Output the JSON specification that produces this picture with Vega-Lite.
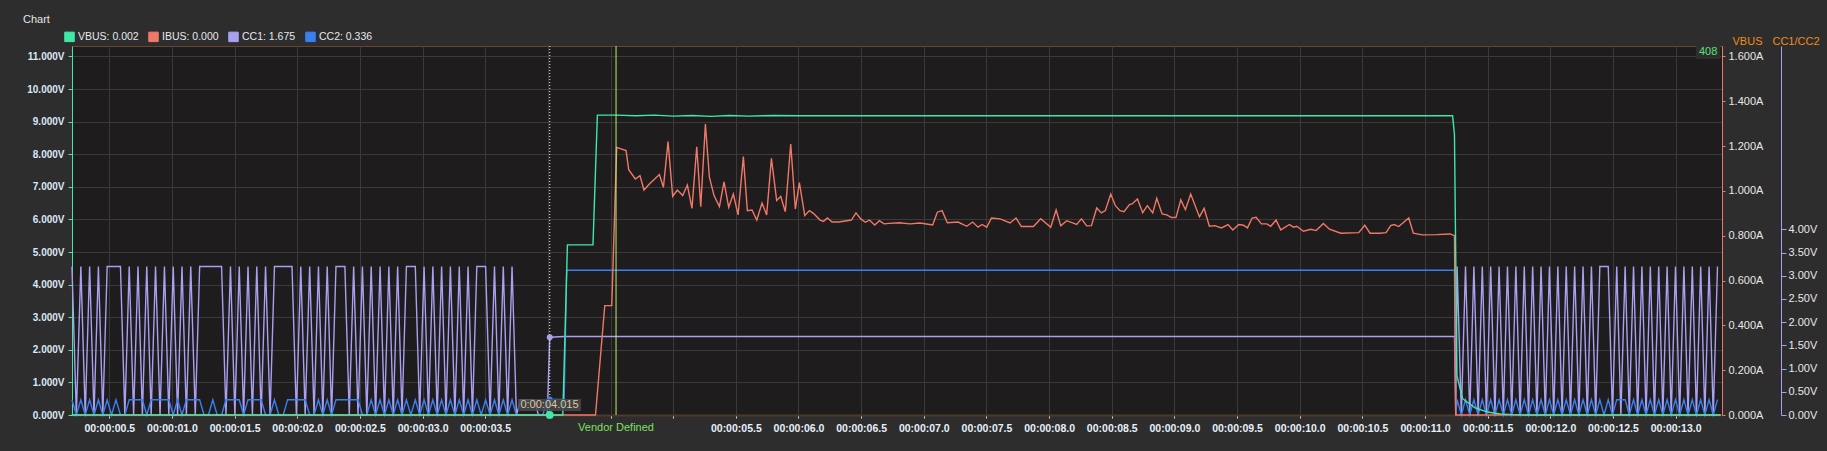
{
 "$schema": "https://vega.github.io/schema/vega-lite/v6.json",
 "width": 1650, "height": 369,
 "autosize": {"type": "none"},
 "padding": {"left": 72, "top": 46, "right": 105, "bottom": 36},
 "background": "#2d2d2d",
 "config": {
  "view": {"fill": "#1e1c1c", "stroke": "#6b4526", "strokeWidth": 1},
  "font": "Liberation Sans"
 },
 "title": {"text": "Chart", "anchor": "start", "frame": "group", "dx": -49, "offset": 6, "fontSize": 11, "fontWeight": "normal", "color": "#e6e6e6", "font": "Liberation Sans"},
 "datasets": {
  "vbus": [{"t":0.2,"VBUS":0},{"t":4.119,"VBUS":0.0},{"t":4.156,"VBUS":5.22},{"t":4.36,"VBUS":5.22},{"t":4.395,"VBUS":9.2},{"t":4.55,"VBUS":9.2},{"t":4.7,"VBUS":9.18},{"t":4.85,"VBUS":9.2},{"t":5.0,"VBUS":9.17},{"t":5.15,"VBUS":9.19},{"t":5.3,"VBUS":9.16},{"t":5.45,"VBUS":9.19},{"t":5.6,"VBUS":9.17},{"t":5.8,"VBUS":9.19},{"t":6.0,"VBUS":9.18},{"t":11.22,"VBUS":9.18},{"t":11.235,"VBUS":8.6},{"t":11.255,"VBUS":1.2},{"t":11.3,"VBUS":0.5},{"t":11.4,"VBUS":0.22},{"t":11.5,"VBUS":0.09},{"t":11.6,"VBUS":0.03},{"t":11.7,"VBUS":0.01},{"t":11.8,"VBUS":0},{"t":13.36,"VBUS":0}],
  "ibus": [{"t":0.2,"IBUS":0},{"t":4.38,"IBUS":0},{"t":4.454,"IBUS":0.488},{"t":4.51,"IBUS":0.488},{"t":4.549,"IBUS":1.194},{"t":4.624,"IBUS":1.18},{"t":4.645,"IBUS":1.095},{"t":4.698,"IBUS":1.053},{"t":4.735,"IBUS":1.068},{"t":4.767,"IBUS":1.004},{"t":4.81,"IBUS":1.031},{"t":4.89,"IBUS":1.073},{"t":4.922,"IBUS":1.016},{"t":4.959,"IBUS":1.22},{"t":4.996,"IBUS":0.976},{"t":5.033,"IBUS":1.004},{"t":5.076,"IBUS":0.979},{"t":5.113,"IBUS":1.026},{"t":5.15,"IBUS":0.922},{"t":5.188,"IBUS":1.197},{"t":5.22,"IBUS":0.93},{"t":5.257,"IBUS":1.298},{"t":5.289,"IBUS":1.061},{"t":5.326,"IBUS":0.979},{"t":5.369,"IBUS":0.93},{"t":5.406,"IBUS":1.04},{"t":5.443,"IBUS":0.927},{"t":5.48,"IBUS":0.986},{"t":5.518,"IBUS":0.893},{"t":5.56,"IBUS":1.153},{"t":5.592,"IBUS":0.912},{"t":5.629,"IBUS":0.915},{"t":5.667,"IBUS":0.87},{"t":5.709,"IBUS":0.946},{"t":5.746,"IBUS":0.893},{"t":5.784,"IBUS":1.145},{"t":5.826,"IBUS":0.957},{"t":5.858,"IBUS":0.976},{"t":5.895,"IBUS":0.907},{"t":5.938,"IBUS":1.209},{"t":5.975,"IBUS":0.919},{"t":6.007,"IBUS":1.037},{"t":6.05,"IBUS":0.89},{"t":6.087,"IBUS":0.912},{"t":6.119,"IBUS":0.9},{"t":6.172,"IBUS":0.87},{"t":6.199,"IBUS":0.864},{"t":6.231,"IBUS":0.879},{"t":6.268,"IBUS":0.861},{"t":6.321,"IBUS":0.861},{"t":6.422,"IBUS":0.87},{"t":6.459,"IBUS":0.902},{"t":6.497,"IBUS":0.875},{"t":6.534,"IBUS":0.86},{"t":6.566,"IBUS":0.87},{"t":6.608,"IBUS":0.848},{"t":6.646,"IBUS":0.867},{"t":6.683,"IBUS":0.853},{"t":6.725,"IBUS":0.855},{"t":6.805,"IBUS":0.858},{"t":6.89,"IBUS":0.853},{"t":6.97,"IBUS":0.857},{"t":7.071,"IBUS":0.848},{"t":7.108,"IBUS":0.905},{"t":7.146,"IBUS":0.912},{"t":7.188,"IBUS":0.858},{"t":7.273,"IBUS":0.861},{"t":7.343,"IBUS":0.842},{"t":7.39,"IBUS":0.861},{"t":7.433,"IBUS":0.838},{"t":7.465,"IBUS":0.85},{"t":7.502,"IBUS":0.838},{"t":7.54,"IBUS":0.879},{"t":7.609,"IBUS":0.875},{"t":7.688,"IBUS":0.857},{"t":7.736,"IBUS":0.879},{"t":7.779,"IBUS":0.841},{"t":7.875,"IBUS":0.841},{"t":7.933,"IBUS":0.876},{"t":8.013,"IBUS":0.838},{"t":8.056,"IBUS":0.915},{"t":8.093,"IBUS":0.844},{"t":8.141,"IBUS":0.867},{"t":8.22,"IBUS":0.85},{"t":8.258,"IBUS":0.875},{"t":8.3,"IBUS":0.844},{"t":8.338,"IBUS":0.845},{"t":8.38,"IBUS":0.924},{"t":8.417,"IBUS":0.902},{"t":8.449,"IBUS":0.912},{"t":8.492,"IBUS":0.986},{"t":8.529,"IBUS":0.934},{"t":8.566,"IBUS":0.912},{"t":8.598,"IBUS":0.907},{"t":8.641,"IBUS":0.939},{"t":8.662,"IBUS":0.942},{"t":8.705,"IBUS":0.964},{"t":8.747,"IBUS":0.903},{"t":8.784,"IBUS":0.934},{"t":8.827,"IBUS":0.902},{"t":8.859,"IBUS":0.967},{"t":8.902,"IBUS":0.897},{"t":8.939,"IBUS":0.893},{"t":8.976,"IBUS":0.881},{"t":9.013,"IBUS":0.882},{"t":9.051,"IBUS":0.96},{"t":9.088,"IBUS":0.916},{"t":9.13,"IBUS":0.986},{"t":9.2,"IBUS":0.884},{"t":9.237,"IBUS":0.922},{"t":9.279,"IBUS":0.842},{"t":9.322,"IBUS":0.845},{"t":9.375,"IBUS":0.835},{"t":9.428,"IBUS":0.85},{"t":9.466,"IBUS":0.826},{"t":9.513,"IBUS":0.85},{"t":9.551,"IBUS":0.847},{"t":9.583,"IBUS":0.835},{"t":9.62,"IBUS":0.879},{"t":9.652,"IBUS":0.882},{"t":9.694,"IBUS":0.853},{"t":9.737,"IBUS":0.853},{"t":9.769,"IBUS":0.842},{"t":9.811,"IBUS":0.87},{"t":9.849,"IBUS":0.826},{"t":9.918,"IBUS":0.85},{"t":9.95,"IBUS":0.838},{"t":9.976,"IBUS":0.842},{"t":10.03,"IBUS":0.82},{"t":10.088,"IBUS":0.829},{"t":10.131,"IBUS":0.823},{"t":10.189,"IBUS":0.855},{"t":10.237,"IBUS":0.829},{"t":10.327,"IBUS":0.811},{"t":10.471,"IBUS":0.814},{"t":10.519,"IBUS":0.847},{"t":10.561,"IBUS":0.811},{"t":10.641,"IBUS":0.811},{"t":10.689,"IBUS":0.814},{"t":10.726,"IBUS":0.845},{"t":10.753,"IBUS":0.85},{"t":10.79,"IBUS":0.841},{"t":10.87,"IBUS":0.879},{"t":10.907,"IBUS":0.811},{"t":10.977,"IBUS":0.804},{"t":11.093,"IBUS":0.805},{"t":11.2,"IBUS":0.808},{"t":11.235,"IBUS":0.8},{"t":11.245,"IBUS":0},{"t":13.36,"IBUS":0}],
  "cc": [
   {"t":0.202,"CC1":3.2,"CC2":0.33},{"t":0.237,"CC1":0,"CC2":0},{"t":0.273,"CC1":3.2,"CC2":0.33},{"t":0.308,"CC1":0,"CC2":0},{"t":0.343,"CC1":3.2,"CC2":0.33},{"t":0.378,"CC1":0,"CC2":0},{"t":0.413,"CC1":3.2,"CC2":0.33},{"t":0.448,"CC1":0,"CC2":0},{"t":0.483,"CC1":3.2,"CC2":0.33},{"t":0.518,"CC1":3.2,"CC2":0},{"t":0.553,"CC1":3.2,"CC2":0.33},{"t":0.589,"CC1":3.2,"CC2":0},{"t":0.624,"CC1":0,"CC2":0},{"t":0.659,"CC1":3.2,"CC2":0.33},{"t":0.694,"CC1":0,"CC2":0.33},{"t":0.729,"CC1":3.2,"CC2":0.33},{"t":0.764,"CC1":0,"CC2":0.33},{"t":0.799,"CC1":3.2,"CC2":0},{"t":0.834,"CC1":0,"CC2":0.33},{"t":0.869,"CC1":3.2,"CC2":0.33},{"t":0.905,"CC1":0,"CC2":0.33},{"t":0.94,"CC1":3.2,"CC2":0.33},{"t":0.975,"CC1":0,"CC2":0.33},{"t":1.01,"CC1":3.2,"CC2":0},{"t":1.045,"CC1":0,"CC2":0.33},{"t":1.08,"CC1":3.2,"CC2":0},{"t":1.115,"CC1":0,"CC2":0.33},{"t":1.15,"CC1":3.2,"CC2":0.33},{"t":1.186,"CC1":0,"CC2":0.33},{"t":1.221,"CC1":3.2,"CC2":0.33},{"t":1.256,"CC1":3.2,"CC2":0},{"t":1.291,"CC1":3.2,"CC2":0},{"t":1.326,"CC1":3.2,"CC2":0.33},{"t":1.361,"CC1":3.2,"CC2":0},{"t":1.396,"CC1":3.2,"CC2":0},{"t":1.431,"CC1":0,"CC2":0.33},{"t":1.467,"CC1":3.2,"CC2":0.33},{"t":1.502,"CC1":0,"CC2":0.33},{"t":1.537,"CC1":3.2,"CC2":0.33},{"t":1.572,"CC1":0,"CC2":0},{"t":1.607,"CC1":3.2,"CC2":0.33},{"t":1.642,"CC1":0,"CC2":0.33},{"t":1.677,"CC1":3.2,"CC2":0.33},{"t":1.712,"CC1":0,"CC2":0.33},{"t":1.747,"CC1":3.2,"CC2":0},{"t":1.783,"CC1":0,"CC2":0},{"t":1.818,"CC1":3.2,"CC2":0.33},{"t":1.853,"CC1":3.2,"CC2":0},{"t":1.888,"CC1":3.2,"CC2":0},{"t":1.923,"CC1":3.2,"CC2":0.33},{"t":1.958,"CC1":3.2,"CC2":0.33},{"t":1.993,"CC1":0,"CC2":0.33},{"t":2.028,"CC1":3.2,"CC2":0.33},{"t":2.063,"CC1":0,"CC2":0.33},{"t":2.099,"CC1":3.2,"CC2":0},{"t":2.134,"CC1":0,"CC2":0},{"t":2.169,"CC1":3.2,"CC2":0.33},{"t":2.204,"CC1":0,"CC2":0},{"t":2.239,"CC1":3.2,"CC2":0.33},{"t":2.274,"CC1":0,"CC2":0},{"t":2.309,"CC1":3.2,"CC2":0.33},{"t":2.344,"CC1":3.2,"CC2":0.33},{"t":2.38,"CC1":3.2,"CC2":0.33},{"t":2.415,"CC1":0,"CC2":0.33},{"t":2.45,"CC1":3.2,"CC2":0.33},{"t":2.485,"CC1":0,"CC2":0.33},{"t":2.52,"CC1":3.2,"CC2":0},{"t":2.555,"CC1":0,"CC2":0},{"t":2.59,"CC1":3.2,"CC2":0.33},{"t":2.625,"CC1":0,"CC2":0},{"t":2.661,"CC1":3.2,"CC2":0.33},{"t":2.696,"CC1":0,"CC2":0},{"t":2.731,"CC1":3.2,"CC2":0.33},{"t":2.766,"CC1":0,"CC2":0},{"t":2.801,"CC1":3.2,"CC2":0.33},{"t":2.836,"CC1":0,"CC2":0},{"t":2.871,"CC1":3.2,"CC2":0.33},{"t":2.906,"CC1":3.2,"CC2":0},{"t":2.942,"CC1":3.2,"CC2":0.33},{"t":2.977,"CC1":0,"CC2":0},{"t":3.012,"CC1":3.2,"CC2":0.33},{"t":3.047,"CC1":0,"CC2":0},{"t":3.082,"CC1":3.2,"CC2":0.33},{"t":3.117,"CC1":0,"CC2":0},{"t":3.152,"CC1":3.2,"CC2":0.33},{"t":3.187,"CC1":0,"CC2":0},{"t":3.222,"CC1":3.2,"CC2":0.33},{"t":3.258,"CC1":0,"CC2":0},{"t":3.293,"CC1":3.2,"CC2":0.33},{"t":3.328,"CC1":0,"CC2":0},{"t":3.363,"CC1":3.2,"CC2":0.33},{"t":3.398,"CC1":0,"CC2":0},{"t":3.433,"CC1":3.2,"CC2":0.33},{"t":3.468,"CC1":3.2,"CC2":0},{"t":3.503,"CC1":3.2,"CC2":0.33},{"t":3.539,"CC1":0,"CC2":0},{"t":3.574,"CC1":3.2,"CC2":0.33},{"t":3.609,"CC1":0,"CC2":0},{"t":3.644,"CC1":3.2,"CC2":0.33},{"t":3.679,"CC1":0,"CC2":0},{"t":3.714,"CC1":3.2,"CC2":0.33},{"t":3.749,"CC1":0,"CC2":0},{"t":3.784,"CC1":0.33,"CC2":0},{"t":3.82,"CC1":0.33,"CC2":0},{"t":3.855,"CC1":0.33,"CC2":0},{"t":3.89,"CC1":0.33,"CC2":0},{"t":3.925,"CC1":0,"CC2":0},{"t":3.96,"CC1":0,"CC2":0},{"t":3.995,"CC1":0,"CC2":0.336},{"t":4.015,"CC1":1.675,"CC2":0.336},{"t":4.13,"CC1":1.69,"CC2":0.336},{"t":4.15,"CC1":1.69,"CC2":3.12},{"t":11.235,"CC1":1.69,"CC2":3.12},{"t":11.245,"CC1":0,"CC2":0},
   {"t":11.256,"CC1":3.2,"CC2":0.33},{"t":11.29,"CC1":0,"CC2":0},{"t":11.323,"CC1":3.2,"CC2":0.33},{"t":11.357,"CC1":0,"CC2":0},{"t":11.39,"CC1":3.2,"CC2":0.33},{"t":11.424,"CC1":0,"CC2":0},{"t":11.457,"CC1":3.2,"CC2":0.33},{"t":11.49,"CC1":0,"CC2":0},{"t":11.524,"CC1":3.2,"CC2":0.33},{"t":11.558,"CC1":0,"CC2":0},{"t":11.591,"CC1":3.2,"CC2":0.33},{"t":11.625,"CC1":0,"CC2":0},{"t":11.658,"CC1":3.2,"CC2":0.33},{"t":11.692,"CC1":0,"CC2":0},{"t":11.725,"CC1":3.2,"CC2":0.33},{"t":11.759,"CC1":0,"CC2":0},{"t":11.792,"CC1":3.2,"CC2":0.33},{"t":11.826,"CC1":0,"CC2":0},{"t":11.859,"CC1":3.2,"CC2":0.33},{"t":11.893,"CC1":0,"CC2":0},{"t":11.926,"CC1":3.2,"CC2":0.33},{"t":11.96,"CC1":0,"CC2":0},{"t":11.993,"CC1":3.2,"CC2":0.33},{"t":12.027,"CC1":0,"CC2":0},{"t":12.06,"CC1":3.2,"CC2":0.33},{"t":12.094,"CC1":0,"CC2":0},{"t":12.127,"CC1":3.2,"CC2":0.33},{"t":12.161,"CC1":0,"CC2":0},{"t":12.194,"CC1":3.2,"CC2":0.33},{"t":12.228,"CC1":0,"CC2":0},{"t":12.261,"CC1":3.2,"CC2":0.33},{"t":12.295,"CC1":0,"CC2":0},{"t":12.328,"CC1":3.2,"CC2":0.33},{"t":12.362,"CC1":0,"CC2":0},{"t":12.395,"CC1":3.2,"CC2":0.33},{"t":12.429,"CC1":3.2,"CC2":0},{"t":12.462,"CC1":3.2,"CC2":0.33},{"t":12.496,"CC1":0,"CC2":0},{"t":12.53,"CC1":3.2,"CC2":0.33},{"t":12.563,"CC1":0,"CC2":0.33},{"t":12.597,"CC1":3.2,"CC2":0.33},{"t":12.63,"CC1":0,"CC2":0},{"t":12.664,"CC1":3.2,"CC2":0.33},{"t":12.697,"CC1":0,"CC2":0},{"t":12.731,"CC1":3.2,"CC2":0.33},{"t":12.764,"CC1":0,"CC2":0},{"t":12.798,"CC1":3.2,"CC2":0.33},{"t":12.831,"CC1":0,"CC2":0},{"t":12.865,"CC1":3.2,"CC2":0.33},{"t":12.898,"CC1":0,"CC2":0},{"t":12.932,"CC1":3.2,"CC2":0.33},{"t":12.965,"CC1":0,"CC2":0},{"t":12.999,"CC1":3.2,"CC2":0.33},{"t":13.032,"CC1":0,"CC2":0},{"t":13.066,"CC1":3.2,"CC2":0.33},{"t":13.099,"CC1":0,"CC2":0},{"t":13.133,"CC1":3.2,"CC2":0.33},{"t":13.166,"CC1":0,"CC2":0},{"t":13.2,"CC1":3.2,"CC2":0.33},{"t":13.233,"CC1":0,"CC2":0},{"t":13.267,"CC1":3.2,"CC2":0.33},{"t":13.3,"CC1":0,"CC2":0},{"t":13.334,"CC1":3.2,"CC2":0.33}
  ]
 },
 "encoding": {
  "x": {"field": "t", "type": "quantitative",
   "scale": {"domain": [0.2023, 13.37], "nice": false, "zero": false},
   "axis": {"orient": "bottom", "values": [0.5,1,1.5,2,2.5,3,3.5,4,4.5,5,5.5,6,6.5,7,7.5,8,8.5,9,9.5,10,10.5,11,11.5,12,12.5,13],
    "labelExpr": "(datum.value > 3.9 && datum.value < 5.1) ? '' : '00:00:' + (datum.value < 10 ? '0' : '') + format(datum.value, '.1f')",
    "title": null, "grid": true, "gridColor": "#3a3a3a", "gridWidth": 1,
    "domainColor": "#4e3a2c", "domainWidth": 2, "tickColor": "#e0e0e0", "tickSize": 3,
    "labelColor": "#e8f0fa", "labelFontSize": 10.5, "labelFontWeight": "bold", "labelFont": "Liberation Sans",
    "labelPadding": 5, "labelFlush": false, "labelOverlap": false}}
 },
 "layer": [
  {
   "data": {"name": "cc"},
   "transform": [{"fold": ["CC1", "CC2"], "as": ["s", "v"]}],
   "mark": {"type": "line", "strokeWidth": 1.4},
   "encoding": {
    "y": {"field": "v", "type": "quantitative", "scale": {"domain": [0, 7.95], "nice": false, "zero": false},
     "axis": {"orient": "right", "offset": 59, "values": [0,0.5,1,1.5,2,2.5,3,3.5,4], "labelExpr": "format(datum.value, '.2f') + 'V'",
      "title": "CC1/CC2", "titleColor": "#f08a1e", "titleFontSize": 11, "titleFontWeight": "normal", "titleFont": "Liberation Sans", "titleAngle": 0, "titleX": 14.5, "titleY": -5, "titleAlign": "center", "titleBaseline": "middle",
      "grid": false, "domainColor": "#aaa0f0", "tickColor": "#aaa0f0", "tickSize": 5, "labelColor": "#e8e8e8", "labelFontSize": 11, "labelFont": "Liberation Sans", "labelPadding": 2}},
    "color": {"field": "s", "type": "nominal", "scale": {"domain": ["VBUS","IBUS","CC1","CC2"], "range": ["#40e8a8","#f07868","#aaa0f0","#3a7ff0"]},
     "legend": {"orient": "none", "legendX": -8, "legendY": -15, "direction": "horizontal", "title": null, "symbolType": "square", "symbolSize": 90, "symbolStrokeColor": "#101010", "symbolStrokeWidth": 1, "symbolOpacity": 1, "labelColor": "#e8e8e8", "labelFontSize": 10.5, "labelFont": "Liberation Sans", "columnPadding": 7, "labelOffset": 3, "labelLimit": 0,
      "labelExpr": "datum.label == 'VBUS' ? 'VBUS: 0.002' : datum.label == 'IBUS' ? 'IBUS: 0.000' : datum.label == 'CC1' ? 'CC1: 1.675' : 'CC2: 0.336'",
      "encode": {"symbols": {"update": {"fill": {"scale": "color", "field": "value"}, "stroke": {"value": "#101010"}, "strokeWidth": {"value": 1}}}}}}
   }
  },
  {
   "data": {"name": "ibus"},
   "transform": [{"fold": ["IBUS"], "as": ["s", "v"]}],
   "mark": {"type": "line", "strokeWidth": 1.4},
   "encoding": {
    "y": {"field": "v", "type": "quantitative", "scale": {"domain": [0, 1.6466], "nice": false, "zero": false},
     "axis": {"orient": "right", "values": [0,0.2,0.4,0.6,0.8,1,1.2,1.4,1.6], "labelExpr": "format(datum.value, '.3f') + 'A'",
      "title": "VBUS", "titleColor": "#f08a1e", "titleFontSize": 11, "titleFontWeight": "normal", "titleFont": "Liberation Sans", "titleAngle": 0, "titleX": 25, "titleY": -5, "titleAlign": "center", "titleBaseline": "middle",
      "grid": false, "domainColor": "#f07868", "tickColor": "#f07868", "tickSize": 3, "labelColor": "#e8e8e8", "labelFontSize": 11, "labelFont": "Liberation Sans", "labelPadding": 3}},
    "color": {"field": "s", "type": "nominal", "scale": {"domain": ["VBUS","IBUS","CC1","CC2"], "range": ["#40e8a8","#f07868","#aaa0f0","#3a7ff0"]},
     "legend": {"orient": "none", "legendX": -8, "legendY": -15, "direction": "horizontal", "title": null, "symbolType": "square", "symbolSize": 90, "symbolStrokeColor": "#101010", "symbolStrokeWidth": 1, "symbolOpacity": 1, "labelColor": "#e8e8e8", "labelFontSize": 10.5, "labelFont": "Liberation Sans", "columnPadding": 7, "labelOffset": 3, "labelLimit": 0,
      "labelExpr": "datum.label == 'VBUS' ? 'VBUS: 0.002' : datum.label == 'IBUS' ? 'IBUS: 0.000' : datum.label == 'CC1' ? 'CC1: 1.675' : 'CC2: 0.336'",
      "encode": {"symbols": {"update": {"fill": {"scale": "color", "field": "value"}, "stroke": {"value": "#101010"}, "strokeWidth": {"value": 1}}}}}}
   }
  },
  {
   "data": {"name": "vbus"},
   "transform": [{"fold": ["VBUS"], "as": ["s", "v"]}],
   "mark": {"type": "line", "strokeWidth": 1.4},
   "encoding": {
    "y": {"field": "v", "type": "quantitative", "scale": {"domain": [0, 11.32], "nice": false, "zero": false},
     "axis": {"orient": "left", "values": [0,1,2,3,4,5,6,7,8,9,10,11], "labelExpr": "format(datum.value, '.3f') + 'V'", "title": null,
      "grid": true, "gridColor": "#3a3a3a", "gridWidth": 1, "domainColor": "#40e8a8", "tickColor": "#40e8a8", "tickSize": 4,
      "labelColor": "#dce8f5", "labelFontSize": 10, "labelFont": "Liberation Sans", "labelFontWeight": "bold", "labelPadding": 4}},
    "color": {"field": "s", "type": "nominal", "scale": {"domain": ["VBUS","IBUS","CC1","CC2"], "range": ["#40e8a8","#f07868","#aaa0f0","#3a7ff0"]},
     "legend": {"orient": "none", "legendX": -8, "legendY": -15, "direction": "horizontal", "title": null, "symbolType": "square", "symbolSize": 90, "symbolStrokeColor": "#101010", "symbolStrokeWidth": 1, "symbolOpacity": 1, "labelColor": "#e8e8e8", "labelFontSize": 10.5, "labelFont": "Liberation Sans", "columnPadding": 7, "labelOffset": 3, "labelLimit": 0,
      "labelExpr": "datum.label == 'VBUS' ? 'VBUS: 0.002' : datum.label == 'IBUS' ? 'IBUS: 0.000' : datum.label == 'CC1' ? 'CC1: 1.675' : 'CC2: 0.336'",
      "encode": {"symbols": {"update": {"fill": {"scale": "color", "field": "value"}, "stroke": {"value": "#101010"}, "strokeWidth": {"value": 1}}}}}}
   }
  },
  {
   "data": {"values": [{"t": 4.015}]},
   "mark": {"type": "rule", "color": "#f0f0f0", "strokeDash": [1, 2], "strokeWidth": 1},
   "encoding": {}
  },
  {
   "data": {"values": [{"t": 4.544}]},
   "mark": {"type": "rule", "color": "#b8f070", "strokeWidth": 1},
   "encoding": {}
  },
  {
   "data": {"values": [{"t": 4.015, "v": 1.675}]},
   "mark": {"type": "circle", "size": 36, "opacity": 1, "color": "#aaa0f0"},
   "encoding": {
    "y": {"field": "v", "type": "quantitative", "scale": {"domain": [0, 7.95], "nice": false, "zero": false}, "axis": null}
   }
  },
  {
   "data": {"values": [{"t": 4.015, "v": 0.336}]},
   "mark": {"type": "circle", "size": 36, "opacity": 1, "color": "#3a7ff0"},
   "encoding": {
    "y": {"field": "v", "type": "quantitative", "scale": {"domain": [0, 7.95], "nice": false, "zero": false}, "axis": null}
   }
  },
  {
   "data": {"values": [{"t": 4.015, "v": 0.002}]},
   "mark": {"type": "circle", "size": 60, "opacity": 1, "color": "#40e8a8"},
   "encoding": {
    "y": {"field": "v", "type": "quantitative", "scale": {"domain": [0, 11.32], "nice": false, "zero": false}, "axis": null}
   }
  },
  {
   "data": {"values": [{"t": 3.762, "t2": 4.264, "v": 0.49, "v2": 0.12}]},
   "mark": {"type": "rect", "color": "#4a4a4a", "opacity": 0.85},
   "encoding": {
    "x2": {"field": "t2"},
    "y": {"field": "v", "type": "quantitative", "scale": {"domain": [0, 11.32], "nice": false, "zero": false}, "axis": null},
    "y2": {"field": "v2"}
   }
  },
  {
   "data": {"values": [{"t": 13.163, "t2": 13.355, "v": 11.32, "v2": 10.92}]},
   "mark": {"type": "rect", "color": "#2e2e2e", "opacity": 1},
   "encoding": {
    "x2": {"field": "t2"},
    "y": {"field": "v", "type": "quantitative", "scale": {"domain": [0, 11.32], "nice": false, "zero": false}, "axis": null},
    "y2": {"field": "v2"}
   }
  },
  {
   "data": {"values": [{"t": 4.013, "v": 0.31, "label": "0:00:04.015"}]},
   "mark": {"type": "text", "font": "Liberation Sans", "fontSize": 11, "align": "center", "baseline": "middle", "color": "#d8c8a8"},
   "encoding": {
    "y": {"field": "v", "type": "quantitative", "scale": {"domain": [0, 11.32], "nice": false, "zero": false}, "axis": null},
    "text": {"field": "label"}
   }
  },
  {
   "data": {"values": [{"t": 13.259, "v": 11.13, "label": "408"}]},
   "mark": {"type": "text", "font": "Liberation Sans", "fontSize": 11, "align": "center", "baseline": "middle", "color": "#58e070"},
   "encoding": {
    "y": {"field": "v", "type": "quantitative", "scale": {"domain": [0, 11.32], "nice": false, "zero": false}, "axis": null},
    "text": {"field": "label"}
   }
  },
  {
   "data": {"values": [{"t": 4.544, "v": -0.4, "label": "Vendor Defined"}]},
   "mark": {"type": "text", "font": "Liberation Sans", "fontSize": 11, "align": "center", "baseline": "middle", "color": "#7fe060"},
   "encoding": {
    "y": {"field": "v", "type": "quantitative", "scale": {"domain": [0, 11.32], "nice": false, "zero": false}, "axis": null},
    "text": {"field": "label"}
   }
  }
 ],
 "resolve": {"scale": {"y": "independent"}}
}
